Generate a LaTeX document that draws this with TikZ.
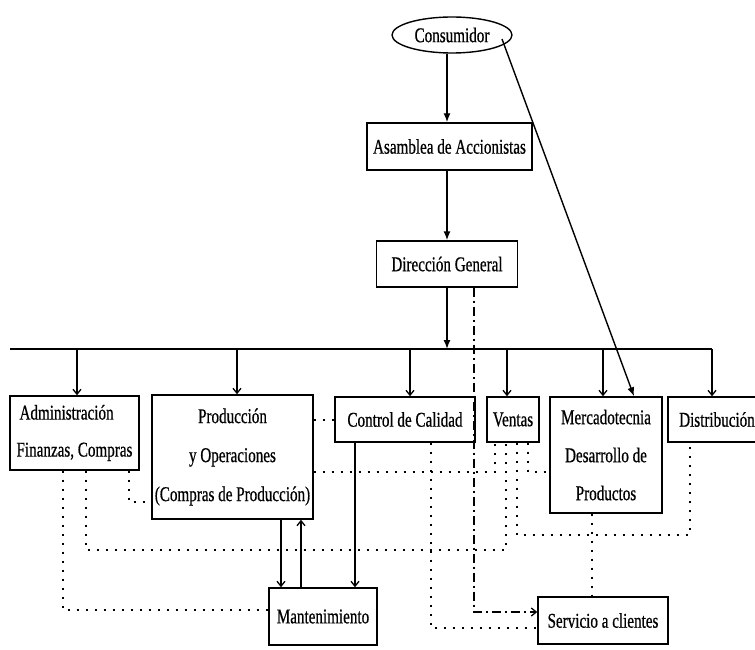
\documentclass[tikz,border=0pt]{standalone}
\usepackage{fontspec}
\setmainfont{Liberation Serif}[FakeStretch=0.72,FakeBold=0.6]
\usetikzlibrary{arrows.meta,shapes.geometric,calc}

\begin{document}
\begin{tikzpicture}[x=1pt,y=-1pt,
  every node/.style={font=\fontsize{21}{39}\selectfont},
  box/.style={draw, line width=1.4pt, inner sep=0pt, align=center},
  wire/.style={line width=1.4pt},
  tip/.style={-{Latex[length=9pt,width=7pt]}},
  barb/.style={-{Straight Barb[length=5pt,width=8pt,line width=1.3pt]}},
  dots/.style={line width=2pt, dash pattern=on 2pt off 7pt},
  dashdot/.style={line width=1.4pt, dash pattern=on 9pt off 4pt on 2pt off 4pt},
]
\useasboundingbox (0,0) rectangle (755,650);

% --- nodes ---
\node[ellipse, draw, line width=1.4pt, minimum width=120pt, minimum height=36pt, inner sep=0pt] (cons) at (452,35) {Consumidor};
\node[box, minimum width=165pt, minimum height=47pt] (asam) at (449.5,146.5) {Asamblea de Accionistas};
\node[box, minimum width=141pt, minimum height=46pt] (dir) at (447,264) {Dirección General};

\node[box, minimum width=129pt, minimum height=74pt, align=left, font=\fontsize{21}{37}\selectfont] (adm) at (74.5,433) {\hspace*{3pt}Administración\\Finanzas, Compras};
\node[box, minimum width=161pt, minimum height=124pt] (prod) at (232.5,457) {Producción\\y Operaciones\\(Compras de Producción)};
\node[box, minimum width=140pt, minimum height=45pt] (ctrl) at (405,419.5) {Control de Calidad};
\node[box, minimum width=52pt, minimum height=45pt] (vent) at (513,419.5) {Ventas};
\node[box, minimum width=112pt, minimum height=116pt, font=\fontsize{21}{38}\selectfont] (merc) at (606,455) {Mercadotecnia\\Desarrollo de\\Productos};
\node[box, minimum width=98pt, minimum height=45pt] (dist) at (717,419.5) {Distribución};
\node[box, minimum width=108pt, minimum height=57pt] (mant) at (323,616.5) {Mantenimiento};
\node[box, minimum width=130pt, minimum height=47pt] (serv) at (603,620.5) {Servicio a clientes};

% --- top chain ---
\draw[wire,tip] (cons.south -| dir.north) -- (asam.north -| dir.north);
\draw[wire,tip] (asam.south -| dir.north) -- (dir.north);
\coordinate (busL) at (10,349);
\coordinate (busR) at (712,349);
\draw[wire] (busL) -- (busR);
\draw[wire,tip] (dir.south) -- (dir.south |- busL);

% consumer to marketing
\coordinate (cm) at ($(cons.center)+(50,4)$);
\coordinate (mt) at (634,0);
\draw[wire,tip] (cm) -- (merc.north -| mt);

% drops from the bus
\foreach \x/\n in {77/adm, 237/prod, 410/ctrl, 507/vent, 603/merc, 712/dist}{
  \coordinate (drop) at (\x,349);
  \draw[wire,barb] (drop) -- (drop |- \n.north);
}

% solid links to maintenance
\coordinate (pm1) at (281,0);
\coordinate (pm2) at (301,0);
\coordinate (cq) at (355,0);
\draw[wire,barb] (prod.south -| pm1) -- (mant.north -| pm1);
\draw[wire,barb] (mant.north -| pm2) -- (prod.south -| pm2);
\draw[wire,barb] (ctrl.south -| cq) -- (mant.north -| cq);

% dash-dot line to customer service
\coordinate (dd) at (474,612);
\draw[dashdot,barb] (dir.south -| dd) -- (dd) -- (dd -| serv.west);

% dotted coordination lines
\draw[dots] (prod.east |- ctrl.west) -- (ctrl.west);
\coordinate (a3) at (129,502);
\draw[dots] (adm.south -| a3) -- (a3) -- (a3 -| prod.west);
\coordinate (a1) at (63,610);
\draw[dots] (adm.south -| a1) -- (a1) -- (a1 -| mant.west);
\coordinate (a2) at (86,550);
\coordinate (v2) at (506,550);
\draw[dots] (adm.south -| a2) -- (a2) -- (v2) -- (v2 |- vent.south);
\coordinate (v1) at (495,472);
\draw[dots] (prod.east |- v1) -- (v1) -- (v1 |- vent.south);
\coordinate (v4) at (528,472);
\draw[dots] (vent.south -| v4) -- (v4) -- (v4 -| merc.west);
\coordinate (v3) at (517,535);
\coordinate (ds) at (690,535);
\draw[dots] (vent.south -| v3) -- (v3) -- (ds) -- (ds |- dist.south);
\coordinate (ms) at (592,0);
\draw[dots] (merc.south -| ms) -- (serv.north -| ms);
\coordinate (cs) at (431,628);
\draw[dots] (ctrl.south -| cs) -- (cs) -- (cs -| serv.west);
\end{tikzpicture}
\end{document}
